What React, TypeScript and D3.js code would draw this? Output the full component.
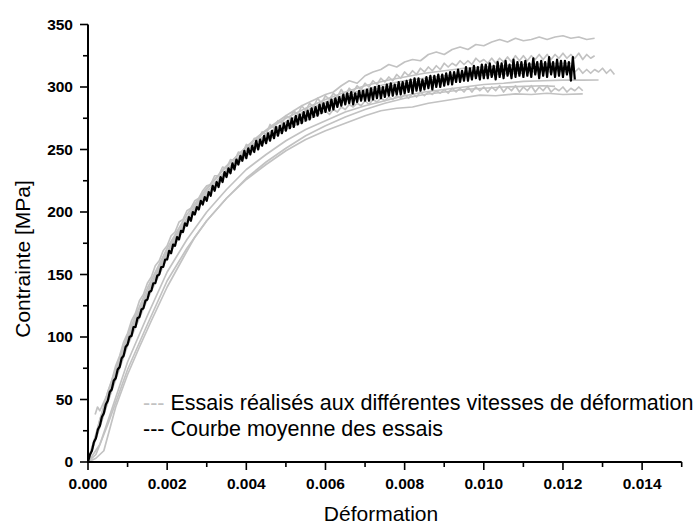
import React from "react";
import * as d3 from "d3";

// Axis ticks
const xMajorTicks = [0, 0.002, 0.004, 0.006, 0.008, 0.01, 0.012, 0.014];
const xMinorTicks = [0.001, 0.003, 0.005, 0.007, 0.009, 0.011, 0.013, 0.015];
const yMajorTicks = [0, 50, 100, 150, 200, 250, 300, 350];
const yMinorTicks = [25, 75, 125, 175, 225, 275, 325];

// Sampling steps of the uniformly recorded series
const MEAN_STEP = 0.00005;
const TRIAL_STEP = 0.0001;

// Mean curve: stress [MPa] every MEAN_STEP from 0
const meanStress = [
  0, 6, 9, 16, 19, 26, 29, 36, 39, 46, 49, 56, 58, 65, 67, 74, 76, 83, 85, 92,
  94, 100, 101, 108, 108, 115, 116, 122, 123, 129, 130, 136, 137, 143, 143, 149, 150, 156, 156, 162,
  162, 169, 167, 174, 173, 180, 178, 185, 184, 191, 189, 196, 193, 200, 198, 204, 202, 209, 206, 212,
  209, 216, 213, 221, 217, 224, 220, 228, 224, 232, 228, 235, 231, 239, 234, 242, 238, 245, 241, 249,
  243, 251, 246, 253, 248, 257, 250, 258, 253, 261, 255, 263, 257, 265, 259, 268, 261, 269, 263, 271,
  265, 273, 267, 275, 268, 277, 270, 278, 271, 280, 273, 281, 274, 283, 276, 284, 277, 286, 279, 287,
  280, 288, 281, 290, 282, 291, 284, 292, 285, 294, 286, 295, 287, 296, 286, 295, 288, 297, 289, 297,
  289, 298, 289, 299, 290, 300, 291, 301, 291, 300, 292, 302, 293, 303, 293, 302, 294, 304, 294, 304,
  295, 305, 296, 306, 295, 307, 297, 307, 297, 306, 298, 308, 299, 309, 298, 309, 300, 310, 300, 310,
  301, 311, 302, 312, 302, 312, 304, 314, 304, 313, 305, 316, 305, 315, 306, 317, 307, 316, 306, 318,
  307, 318, 307, 319, 308, 317, 306, 320, 308, 319, 307, 321, 309, 318, 307, 322, 308, 320, 309, 320,
  308, 321, 309, 319, 308, 323, 310, 320, 307, 321, 309, 320, 308, 324, 310, 320, 308, 322, 309, 321,
  308, 321, 310, 320, 305, 324, 306,
];

// Upper noisy trial: stress every TRIAL_STEP from 0
const trialBStress = [
  0, 12, 21, 34, 43, 56, 65, 77, 85, 96,
  103, 113, 119, 129, 134, 143, 148, 157, 161, 169,
  173, 181, 184, 192, 194, 201, 203, 209, 211, 217,
  221, 222, 229, 229, 236, 235, 242, 241, 248, 247,
  254, 252, 259, 258, 264, 262, 270, 267, 273, 271,
  277, 275, 281, 278, 285, 281, 287, 284, 291, 287,
  293, 290, 295, 292, 298, 293, 299, 296, 301, 298,
  303, 300, 305, 302, 307, 304, 308, 305, 310, 307,
  312, 309, 313, 310, 315, 312, 316, 313, 317, 314,
  319, 316, 319, 317, 321, 318, 321, 318, 323, 320,
  322, 319, 323, 319, 323, 320, 324, 320, 325, 321,
  325, 321, 325, 322, 326, 322, 326, 322, 326, 323,
  327, 323, 326, 323, 327, 322, 326, 323, 325,
];

// Other trials as [strain, stress] pairs
const trialA: [number, number][] = [
  [0, 0], [0.0003, 28], [0.0006, 58], [0.001, 96], [0.0014, 128], [0.0018, 156],
  [0.0022, 180], [0.0026, 200], [0.003, 218], [0.0034, 233], [0.0038, 246],
  [0.0042, 258], [0.0046, 268], [0.005, 277], [0.0054, 285], [0.0058, 291],
  [0.006, 294], [0.0062, 296], [0.0064, 301], [0.0066, 305], [0.0068, 303],
  [0.007, 309], [0.0072, 312], [0.0074, 314], [0.0076, 318], [0.0078, 316],
  [0.008, 320], [0.0082, 322], [0.0084, 321], [0.0086, 326], [0.0088, 328],
  [0.009, 326], [0.0092, 330], [0.0094, 332], [0.0096, 330], [0.0098, 334],
  [0.01, 333], [0.0102, 336], [0.0104, 338], [0.0106, 336], [0.0108, 339],
  [0.011, 337], [0.0112, 338], [0.0114, 340], [0.0116, 338], [0.0118, 340],
  [0.012, 341], [0.0122, 339], [0.0124, 340], [0.0126, 338], [0.0128, 339],
];

const trialC: [number, number][] = [
  [0, 0], [0.0005, 48], [0.001, 93], [0.0015, 130], [0.002, 163], [0.0025, 191],
  [0.003, 213], [0.0035, 232], [0.004, 249], [0.0045, 262], [0.005, 272],
  [0.0055, 281], [0.006, 288], [0.0065, 294], [0.007, 298], [0.0075, 302],
  [0.008, 305], [0.0085, 307], [0.009, 309], [0.0095, 310], [0.01, 311],
  [0.0101, 314], [0.0102, 311], [0.0103, 315], [0.0104, 311], [0.0105, 313],
  [0.0106, 315], [0.0107, 311], [0.0108, 314], [0.0109, 312], [0.011, 315],
  [0.0111, 312], [0.0112, 314], [0.0113, 311], [0.0114, 315], [0.0115, 312],
  [0.0116, 314], [0.0117, 311], [0.0118, 315], [0.0119, 312], [0.012, 314],
  [0.0121, 311], [0.0122, 315], [0.0123, 312], [0.0124, 315], [0.0125, 311],
  [0.0126, 314], [0.0127, 311], [0.0128, 314], [0.0129, 312], [0.013, 315],
  [0.0131, 311], [0.0132, 314], [0.0133, 310],
];

const trialD: [number, number][] = [
  [0, 0], [0.0003, 14], [0.0006, 42], [0.001, 80], [0.0015, 117], [0.002, 152],
  [0.0025, 178], [0.003, 200], [0.0035, 218], [0.004, 234], [0.0045, 246],
  [0.005, 257], [0.0055, 266], [0.006, 273], [0.0065, 280], [0.007, 285],
  [0.0075, 289], [0.008, 293], [0.0085, 296], [0.009, 298], [0.0095, 300],
  [0.01, 302], [0.0105, 303], [0.011, 304.5], [0.0115, 305], [0.012, 305.5],
  [0.0125, 305.5], [0.0129, 305.6],
];

const trialE: [number, number][] = [
  [0, 0], [0.0005, 52], [0.001, 99], [0.0015, 136], [0.002, 168], [0.0025, 194],
  [0.003, 214], [0.0035, 231], [0.004, 245], [0.0045, 257], [0.005, 266],
  [0.0055, 273], [0.006, 281], [0.0061, 278], [0.0062, 282], [0.0063, 280],
  [0.0064, 284], [0.0065, 282], [0.0066, 286], [0.0067, 284], [0.0068, 287],
  [0.0069, 285], [0.007, 289], [0.0071, 286], [0.0072, 290], [0.0073, 288],
  [0.0074, 291], [0.0075, 289], [0.0076, 292], [0.0077, 290], [0.0078, 293],
  [0.0079, 291], [0.008, 294], [0.0081, 291], [0.0082, 295], [0.0083, 292],
  [0.0084, 296], [0.0085, 293], [0.0086, 296], [0.0087, 294], [0.0088, 297],
  [0.0089, 295], [0.009, 298], [0.0091, 295], [0.0092, 299], [0.0093, 296],
  [0.0094, 299], [0.0095, 296], [0.0096, 300], [0.0097, 296], [0.0098, 300],
  [0.0099, 297], [0.01, 300], [0.0101, 296], [0.0102, 300], [0.0103, 297],
  [0.0104, 301], [0.0105, 296], [0.0106, 300], [0.0107, 297], [0.0108, 301],
  [0.0109, 296], [0.011, 300], [0.0111, 297], [0.0112, 301], [0.0113, 296],
  [0.0114, 300], [0.0115, 297], [0.0116, 301], [0.0117, 296], [0.0118, 299],
  [0.0119, 297], [0.012, 300], [0.0121, 296], [0.0122, 299], [0.0123, 297],
  [0.0124, 300], [0.0125, 297],
];

const trialF: [number, number][] = [
  [0, 0], [0.0002, 3], [0.0004, 9], [0.0007, 44], [0.001, 70], [0.0013, 92],
  [0.0016, 113], [0.002, 140], [0.0024, 163], [0.0027, 180], [0.003, 193],
  [0.0035, 211], [0.004, 226], [0.0045, 238], [0.005, 249], [0.0055, 258],
  [0.006, 265], [0.0065, 271], [0.007, 277], [0.0074, 281], [0.0078, 283],
  [0.0082, 284], [0.0086, 287], [0.009, 289], [0.0094, 291], [0.0099, 293.5],
  [0.0103, 293], [0.0108, 294.5], [0.0112, 294], [0.0116, 295], [0.012, 294],
  [0.0125, 294.5],
];

const trialG: [number, number][] = [
  [0.00018, 38], [0.00024, 44], [0.0003, 41], [0.0005, 55], [0.0008, 81],
  [0.001, 99], [0.0015, 135], [0.002, 167], [0.0025, 194], [0.003, 216],
  [0.0035, 234], [0.004, 250], [0.0045, 262], [0.005, 272], [0.0055, 280],
  [0.006, 287], [0.0065, 292], [0.007, 297], [0.0075, 300], [0.008, 303],
  [0.0085, 305], [0.009, 307], [0.0095, 308.5], [0.01, 309.5], [0.0105, 310.5],
  [0.011, 311],
];

const trialH: [number, number][] = [
  [0, 0], [0.0002, 6], [0.0005, 30], [0.001, 74], [0.0015, 110], [0.002, 145],
  [0.0025, 171], [0.003, 193], [0.0035, 211], [0.004, 227], [0.0045, 240],
  [0.005, 251], [0.0055, 261], [0.006, 269], [0.0065, 276], [0.007, 282],
  [0.0075, 287], [0.008, 291], [0.0085, 294], [0.009, 296], [0.0095, 298],
  [0.01, 299], [0.0105, 300], [0.011, 300.5], [0.0115, 301], [0.0118, 300.5],
];

const trialI: [number, number][] = [
  [0, 0], [0.0005, 56], [0.001, 102], [0.0015, 139], [0.002, 171], [0.0025, 198],
  [0.003, 219], [0.0035, 237], [0.004, 252], [0.0045, 265], [0.005, 275],
  [0.0055, 283], [0.006, 290], [0.0065, 296], [0.007, 301], [0.0075, 305],
  [0.008, 308], [0.0085, 311], [0.009, 313], [0.0095, 315], [0.01, 316],
  [0.0105, 317], [0.011, 318], [0.0115, 318.5], [0.012, 319], [0.0122, 319],
];

const sampled = (values: number[], step: number): [number, number][] =>
  values.map((v, i) => [i * step, v]);

const W = 698;
const H = 524;
const FONT = "'Liberation Sans', Arial, Helvetica, sans-serif";
const GREY = "#c2c2c2";

export default function App() {
  const x = d3.scaleLinear().domain([0, 0.015]).range([88, 681.7]);
  const y = d3.scaleLinear().domain([0, 350]).range([462, 24.5]);
  const line = d3
    .line<[number, number]>()
    .x((d) => x(d[0]))
    .y((d) => y(d[1]));

  const trials: [number, number][][] = [
    trialH, trialF, trialD, trialG, trialE, trialC, trialI,
    sampled(trialBStress, TRIAL_STEP), trialA,
  ];
  const mean = sampled(meanStress, MEAN_STEP);
  const fmt = d3.format(".3f");

  return (
    <svg
      width={W}
      height={H}
      viewBox={`0 0 ${W} ${H}`}
      style={{ position: "absolute", left: 0, top: 0, display: "block", background: "#fff" }}
    >
      <rect width={W} height={H} fill="#fff" />

      {trials.map((t, i) => (
        <path
          key={i}
          d={line(t) ?? ""}
          fill="none"
          stroke={GREY}
          strokeWidth={1.7}
          strokeLinejoin="round"
        />
      ))}
      <path
        d={line(mean) ?? ""}
        fill="none"
        stroke="#000"
        strokeWidth={2.2}
        strokeLinejoin="round"
      />

      {/* axes */}
      <g stroke="#000" strokeWidth={2} fill="none">
        <line x1={x(0)} x2={x(0)} y1={y(350)} y2={y(0) + 1} />
        <line x1={x(0) - 1} x2={x(0.015)} y1={y(0)} y2={y(0)} />
        {yMajorTicks.map((t) => (
          <line key={"ym" + t} x1={x(0) - 8} x2={x(0)} y1={y(t)} y2={y(t)} strokeWidth={1.6} />
        ))}
        {yMinorTicks.map((t) => (
          <line key={"yn" + t} x1={x(0) - 5} x2={x(0)} y1={y(t)} y2={y(t)} strokeWidth={1.6} />
        ))}
        {xMajorTicks.map((t) => (
          <line key={"xm" + t} x1={x(t)} x2={x(t)} y1={y(0)} y2={y(0) + 8} strokeWidth={1.6} />
        ))}
        {xMinorTicks.map((t) => (
          <line key={"xn" + t} x1={x(t)} x2={x(t)} y1={y(0)} y2={y(0) + 5} strokeWidth={1.6} />
        ))}
      </g>

      <g fontFamily={FONT} fontWeight="bold" fontSize={15.5} fill="#000">
        {yMajorTicks.map((t) => (
          <text key={"yl" + t} x={x(0) - 15} y={y(t)} dy="0.35em" textAnchor="end">
            {t}
          </text>
        ))}
        {xMajorTicks.map((t) => (
          <text key={"xl" + t} x={x(t)} y={y(0) + 27} textAnchor="middle">
            {fmt(t)}
          </text>
        ))}
      </g>

      <g fontFamily={FONT} fontSize={21} fill="#000">
        <text x={30} y={259} textAnchor="middle" transform="rotate(-90 30 259)">
          Contrainte [MPa]
        </text>
        <text x={381} y={521} textAnchor="middle">
          Déformation
        </text>
      </g>
      <g fontFamily={FONT} fontSize={21.5} fill="#000">
        <text x={143} y={410}>
          <tspan fill={GREY}>---</tspan> Essais réalisés aux différentes vitesses de déformation
        </text>
        <text x={143} y={436}>
          <tspan fill="#000">---</tspan> Courbe moyenne des essais
        </text>
      </g>
    </svg>
  );
}
